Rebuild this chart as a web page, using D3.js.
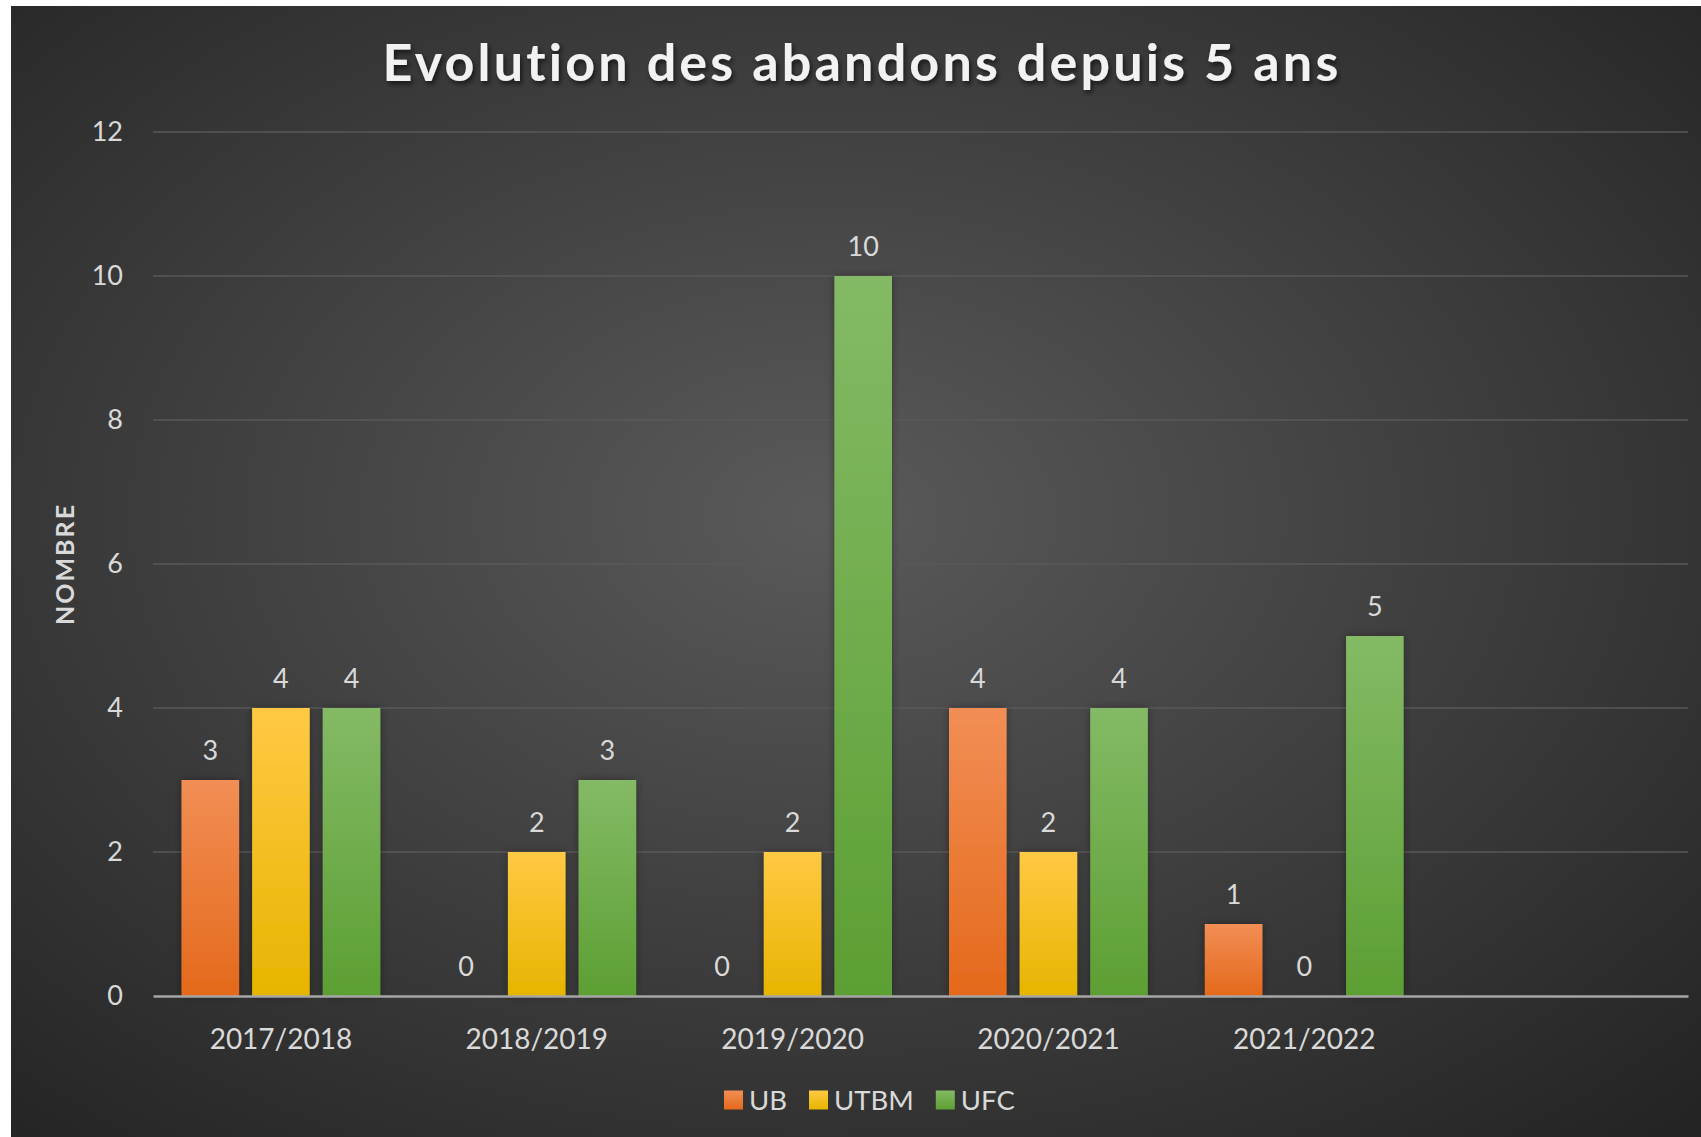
<!DOCTYPE html>
<html lang="fr">
<head>
<meta charset="utf-8">
<title>Evolution des abandons depuis 5 ans</title>
<script src="https://cdn.jsdelivr.net/npm/d3@7"></script>
<style>
  body { margin: 0; background: #ffffff; }
  svg { display: block; }
  .axis text { font-family: Lato, "Open Sans", sans-serif; fill: #d9d9d9; }
</style>
</head>
<body>
<script>
// Data
var years = ["2017/2018", "2018/2019", "2019/2020", "2020/2021", "2021/2022"];
var series = ["UB", "UTBM", "UFC"];
var ub = [3, 0, 0, 4, 1];
var utbm = [4, 2, 2, 2, 0];
var ufc = [4, 3, 10, 4, 5];
var yTicks = [0, 2, 4, 6, 8, 10, 12];

var values = { UB: ub, UTBM: utbm, UFC: ufc };
var colors = {
  UB: ["#f28e55", "#e4691b"],
  UTBM: ["#ffc944", "#e6b500"],
  UFC: ["#84ba65", "#5c9f33"]
};

var width = 1701, height = 1137;
// chart frame (white strip on top and left in the original screenshot)
var frame = { x: 11, y: 6 };
var margin = { top: 132, right: 12, bottom: 140, left: 153 };
var plotW = 1688 - margin.left;
var plotH = 996 - margin.top;

var svg = d3.select("body").append("svg")
  .attr("width", width)
  .attr("height", height);

var defs = svg.append("defs");

// background radial gradient
var bg = defs.append("radialGradient")
  .attr("id", "bg")
  .attr("cx", "48%").attr("cy", "45%").attr("r", "75%");
bg.append("stop").attr("offset", "0%").attr("stop-color", "#5a5a5a");
bg.append("stop").attr("offset", "100%").attr("stop-color", "#232323");

series.forEach(function(s) {
  var g = defs.append("linearGradient")
    .attr("id", "grad-" + s)
    .attr("x1", 0).attr("y1", 0).attr("x2", 0).attr("y2", 1);
  g.append("stop").attr("offset", "0%").attr("stop-color", colors[s][0]);
  g.append("stop").attr("offset", "100%").attr("stop-color", colors[s][1]);
});

var shadow = defs.append("filter").attr("id", "shadow")
  .attr("x", "-20%").attr("y", "-20%").attr("width", "140%").attr("height", "140%");
shadow.append("feDropShadow")
  .attr("dx", 2).attr("dy", 3).attr("stdDeviation", 2.5)
  .attr("flood-color", "#000").attr("flood-opacity", 0.6);

var barShadow = defs.append("filter").attr("id", "barshadow")
  .attr("x", "-30%").attr("y", "-10%").attr("width", "160%").attr("height", "120%");
barShadow.append("feDropShadow")
  .attr("dx", 0).attr("dy", 0).attr("stdDeviation", 4)
  .attr("flood-color", "#000").attr("flood-opacity", 0.35);

svg.append("rect")
  .attr("x", frame.x).attr("y", frame.y)
  .attr("width", width - frame.x).attr("height", height - frame.y)
  .attr("fill", "url(#bg)");

// Title
svg.append("text")
  .attr("x", 862)
  .attr("y", 81)
  .attr("text-anchor", "middle")
  .attr("font-family", "Lato, 'Open Sans', sans-serif")
  .attr("font-weight", "bold")
  .attr("font-size", "52px")
  .attr("letter-spacing", "3.2px")
  .attr("fill", "#f2f2f2")
  .attr("filter", "url(#shadow)")
  .text("Evolution des abandons depuis 5 ans");

var chart = svg.append("g")
  .attr("transform", "translate(" + margin.left + "," + margin.top + ")");

// scales: six slots along x, the last one left empty as in the original
var x0 = d3.scaleBand()
  .domain(years.concat([" "]))
  .range([0, plotW]);

var x1 = d3.scaleBand()
  .domain(series)
  .range([28.5, x0.bandwidth() - 28.5])
  .paddingInner(0.184);

var y = d3.scaleLinear()
  .domain([0, 12])
  .range([plotH, 0]);

// gridlines
chart.append("g")
  .selectAll("line")
  .data(yTicks.slice(1))
  .enter()
  .append("line")
  .attr("x1", 0)
  .attr("x2", plotW)
  .attr("y1", function(d) { return y(d); })
  .attr("y2", function(d) { return y(d); })
  .attr("stroke", "#585858")
  .attr("stroke-width", 1.5);

// y axis labels
var yAxis = d3.axisLeft(y).tickValues(yTicks).tickSize(0).tickPadding(30);
chart.append("g")
  .attr("class", "axis")
  .call(yAxis)
  .call(function(g) { g.select(".domain").remove(); })
  .selectAll("text")
  .attr("font-size", "27px");

// bars
var groups = chart.selectAll(".year")
  .data(years)
  .enter()
  .append("g")
  .attr("class", "year")
  .attr("transform", function(d) { return "translate(" + x0(d) + ",0)"; });

groups.selectAll("rect")
  .data(function(d, i) {
    return series.map(function(s) { return { key: s, value: values[s][i] }; });
  })
  .enter()
  .append("rect")
  .attr("x", function(d) { return x1(d.key); })
  .attr("y", function(d) { return y(d.value); })
  .attr("width", x1.bandwidth())
  .attr("height", function(d) { return plotH - y(d.value); })
  .attr("fill", function(d) { return "url(#grad-" + d.key + ")"; })
  .attr("filter", "url(#barshadow)");

// data labels
groups.selectAll(".label")
  .data(function(d, i) {
    return series.map(function(s) { return { key: s, value: values[s][i] }; });
  })
  .enter()
  .append("text")
  .attr("class", "label")
  .attr("x", function(d) { return x1(d.key) + x1.bandwidth() / 2; })
  .attr("y", function(d) { return y(d.value) - 20; })
  .attr("text-anchor", "middle")
  .attr("font-family", "Lato, 'Open Sans', sans-serif")
  .attr("font-size", "27px")
  .attr("fill", "#d9d9d9")
  .text(function(d) { return d.value; });

// x axis
var xAxis = d3.axisBottom(x0).tickSize(0).tickPadding(33);
var xg = chart.append("g")
  .attr("class", "axis")
  .attr("transform", "translate(0," + plotH + ")")
  .call(xAxis);
xg.select(".domain")
  .attr("stroke", "#a6a6a6")
  .attr("stroke-width", 2.5);
xg.selectAll("text").attr("font-size", "28px");

// y axis title
svg.append("text")
  .attr("transform", "translate(74,564) rotate(-90)")
  .attr("text-anchor", "middle")
  .attr("font-family", "Lato, 'Open Sans', sans-serif")
  .attr("font-weight", "bold")
  .attr("font-size", "25px")
  .attr("letter-spacing", "2px")
  .attr("fill", "#d9d9d9")
  .text("NOMBRE");

// legend
var legend = svg.append("g").attr("transform", "translate(0,1100)");
var lx = 724;
series.forEach(function(s) {
  legend.append("rect")
    .attr("x", lx).attr("y", -9.5)
    .attr("width", 19).attr("height", 19)
    .attr("fill", "url(#grad-" + s + ")");
  var t = legend.append("text")
    .attr("x", lx + 25).attr("y", 10)
    .attr("font-family", "Lato, 'Open Sans', sans-serif")
    .attr("font-size", "27.5px")
    .attr("fill", "#d9d9d9")
    .text(s);
  lx += 25 + t.node().getComputedTextLength() + 22;
});
</script>
</body>
</html>
